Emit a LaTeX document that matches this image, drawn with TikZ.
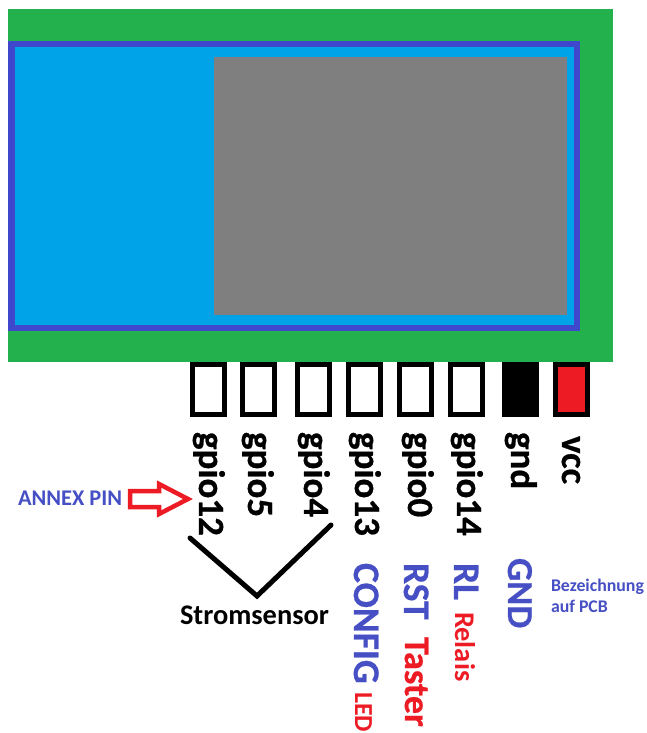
\documentclass[tikz,border=0pt]{standalone}
\usepackage{fontspec}
\setmainfont{Carlito}
\definecolor{pcbgreen}{HTML}{22B14C}
\definecolor{modblue}{HTML}{00A2E8}
\definecolor{indigo}{HTML}{3F48CC}
\definecolor{chipgray}{HTML}{7F7F7F}
\definecolor{txtblue}{HTML}{4650C4}
\definecolor{pinred}{HTML}{ED1C24}
\newcommand{\fsz}[1]{\fontsize{#1}{#1}\selectfont\bfseries}
\newcommand{\fszh}[1]{\fontsize{#1}{#1}\selectfont\bfseries\addfontfeatures{FakeBold=0.6}}
\tikzset{
  pin/.style={draw=black,line width=5pt,fill=white,minimum width=32pt,minimum height=50pt,inner sep=0pt,outer sep=0pt},
  vlabel/.style={rotate=-90,anchor=base west,inner sep=0pt,outer sep=0pt},
  hlabel/.style={anchor=base west,inner sep=0pt,outer sep=0pt},
  gp/.style={vlabel,font=\fszh{37},text=black},
  bluev/.style={vlabel,font=\fszh{37.5},text=txtblue},
  redv/.style={vlabel,text=pinred}
}
\begin{document}
\begin{tikzpicture}[x=1pt,y=-1pt]
\useasboundingbox (0,0) rectangle (646,733);
\fill[white] (0,0) rectangle (646,733);
% pins
\node[pin] (p1) at (208.5,389.5) {};
\node[pin] (p2) at (258.5,389.5) {};
\node[pin] (p3) at (313.5,389.5) {};
\node[pin] (p4) at (364,389.5) {};
\node[pin] (p5) at (415.5,389.5) {};
\node[pin] (p6) at (466.5,389.5) {};
\node[pin,fill=black] (p7) at (520.5,389.5) {};
\node[pin,fill=pinred] (p8) at (571.5,389.5) {};
% board
\fill[pcbgreen] (8,9) rectangle (613,362);
\fill[indigo] (8,41) rectangle (580,331);
\fill[modblue] (15,47) rectangle (574,325);
\fill[chipgray] (214,57) rectangle (567,315);
% pin labels
\node[gp] (g12) at (199,432) {gpio12};
\node[gp] (g5) at (248,432) {gpio5};
\node[gp] (g4) at (304,432) {gpio4};
\node[gp] (g13) at (355,432) {gpio13};
\node[gp] (g0) at (408,432) {gpio0};
\node[gp] (g14) at (457,432) {gpio14};
\node[gp] (gn) at (511,432) {gnd};
\node[gp] (vc) at (562,436) {vcc};
% PCB labels
\node[bluev] (cfg) at (354,563) {CONFIG};
\node[redv,font=\fsz{26}] (led) at (355,692) {LED};
\node[bluev] (rst) at (404,563) {RST};
\node[redv,font=\fszh{36}] (tst) at (405,637) {Taster};
\node[bluev] (rl) at (454,563) {RL};
\node[redv,font=\fsz{28.5}] (rel) at (455,612) {Relais};
\node[bluev,font=\fszh{36.5}] (gd) at (508,558) {GND};
\node[hlabel,font=\fsz{17.8},text=txtblue] (bez) at (551,591) {Bezeichnung};
\node[hlabel,font=\fsz{17.8},text=txtblue] (auf) at (551,612) {auf PCB};
\node[hlabel,font=\fsz{22.4},text=txtblue] (ann) at (18,505) {ANNEX PIN};
\node[hlabel,font=\fsz{28.4},text=black] (sen) at (180,624) {Stromsensor};
% annex arrow
\coordinate (tip) at (188,499);
\draw[pinred,line width=4.5pt,miter limit=10,fill=white] (130,491) -- (159,491) -- (159,484) -- (tip) -- (159,514) -- (159,507) -- (130,507) -- cycle;
% sensor bracket
\coordinate (vl) at (190,538);
\coordinate (vm) at (257,596);
\coordinate (vr) at (331,525);
\draw[black,line width=5pt,line cap=round,line join=miter] (vl) -- (vm) -- (vr);
\end{tikzpicture}
\end{document}
